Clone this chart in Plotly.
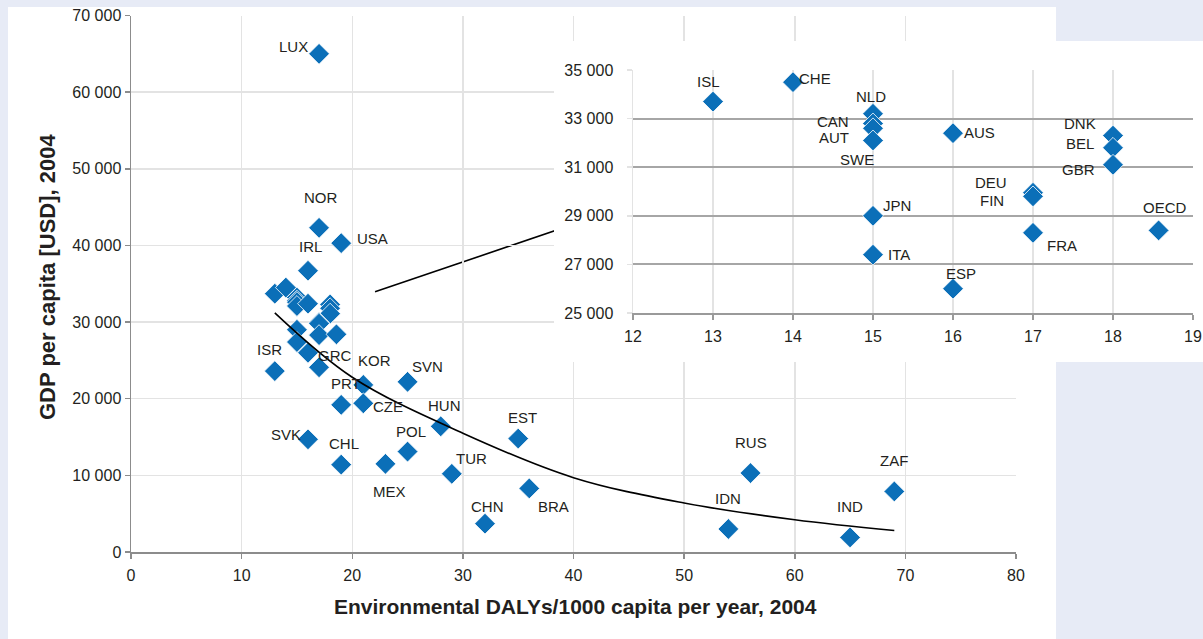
import plotly.graph_objects as go

# ---------------- data ----------------
countries = ["LUX", "NOR", "USA", "IRL", "ISL", "CHE", "NLD", "CAN", "AUT", "SWE",
             "AUS", "DNK", "BEL", "GBR", "DEU", "FIN", "JPN", "FRA", "OECD", "ITA",
             "ESP", "GRC", "ISR", "KOR", "SVN", "PRT", "CZE", "HUN", "SVK", "CHL",
             "POL", "EST", "MEX", "TUR", "BRA", "CHN", "RUS", "IDN", "ZAF", "IND"]
dalys = [17, 17, 19, 16, 13, 14, 15, 15, 15, 15,
         16, 18, 18, 18, 17, 17, 15, 17, 18.57, 15,
         16, 17, 13, 21, 25, 19, 21, 28, 16, 19,
         25, 35, 23, 29, 36, 32, 56, 54, 69, 65]
gdp = [65000, 42300, 40300, 36700, 33700, 34500, 33200, 32800, 32600, 32100,
       32400, 32300, 31800, 31100, 29950, 29800, 29000, 28300, 28400, 27400,
       26000, 24100, 23600, 21800, 22200, 19200, 19400, 16400, 14700, 11400,
       13100, 14800, 11500, 10200, 8300, 3700, 10300, 3000, 7900, 1900]

# trend line
trend_x = [13, 20, 30, 40, 50, 60, 69]
trend_y = [31200, 22800, 15500, 9700, 6400, 4200, 2800]

inset_countries = ["ISL", "CHE", "NLD", "CAN", "AUT", "SWE", "AUS", "DNK", "BEL",
                   "GBR", "DEU", "FIN", "JPN", "FRA", "OECD", "ITA", "ESP"]

x_title = "Environmental DALYs/1000 capita per year, 2004"
y_title = "GDP per capita [USD], 2004"

# ---------------- label placement (pixel offsets: dx, dy downwards) ----------------
main_label_offsets = {
    "LUX": (-26, -7), "NOR": (2, -30), "USA": (31, -5), "IRL": (2, -24),
    "ISR": (-5, -22), "GRC": (16, -12), "KOR": (11, -24), "SVN": (20, -15),
    "PRT": (5, -21), "CZE": (25, 3), "HUN": (4, -21), "SVK": (-22, -5),
    "CHL": (3, -21), "POL": (3, -20), "EST": (4, -21), "MEX": (4, 28),
    "TUR": (20, -15), "CHN": (2, -17), "BRA": (24, 18), "IDN": (0, -31),
    "RUS": (0, -31), "IND": (0, -31), "ZAF": (0, -31),
}
inset_label_offsets = {
    "ISL": (-5, -20), "CHE": (22, -4), "NLD": (-2, -17), "CAN": (-40, -2),
    "AUT": (-39, 9), "SWE": (-16, 19), "AUS": (26, -1), "DNK": (-33, -12),
    "BEL": (-33, -4), "GBR": (-35, 5), "DEU": (-42, -10), "FIN": (-41, 4),
    "JPN": (24, -10), "ITA": (26, 0), "FRA": (29, 13), "OECD": (6, -23),
    "ESP": (8, -15),
}

# ---------------- styles ----------------
W, H = 1203, 639
BLUE = "#0B6FB8"
LAV = "#E7EBF6"
TXT = "#231F20"
FONT = "Liberation Sans, Arial, sans-serif"


def px_x(p):
    return p / W


def px_y(p):
    return (H - p) / H


val = dict(zip(countries, zip(dalys, gdp)))

fig = go.Figure()

# main scatter
fig.add_trace(go.Scatter(
    x=dalys, y=gdp, mode="markers", xaxis="x", yaxis="y",
    marker=dict(symbol="diamond", size=16, color=BLUE, line=dict(color="white", width=0.8)),
    showlegend=False, hoverinfo="skip"))
# trend
fig.add_trace(go.Scatter(
    x=trend_x, y=trend_y, mode="lines", xaxis="x", yaxis="y",
    line=dict(color="black", width=1.6, shape="spline", smoothing=1.0),
    showlegend=False, hoverinfo="skip"))

# invisible subplot that carries the white inset box
fig.add_trace(go.Scatter(x=[None], y=[None], xaxis="x2", yaxis="y2",
                         showlegend=False, hoverinfo="skip"))

# inset scatter
fig.add_trace(go.Scatter(
    x=[val[c][0] for c in inset_countries], y=[val[c][1] for c in inset_countries],
    mode="markers", xaxis="x3", yaxis="y3",
    marker=dict(symbol="diamond", size=16, color=BLUE, line=dict(color="white", width=0.8)),
    showlegend=False, hoverinfo="skip"))

annotations = []
for c, (dx, dy) in main_label_offsets.items():
    annotations.append(dict(x=val[c][0], y=val[c][1], xref="x", yref="y", text=c,
                            showarrow=False, xshift=dx, yshift=-dy,
                            xanchor="center", yanchor="middle",
                            font=dict(family=FONT, size=15, color=TXT)))
for c, (dx, dy) in inset_label_offsets.items():
    annotations.append(dict(x=val[c][0], y=val[c][1], xref="x3", yref="y3", text=c,
                            showarrow=False, xshift=dx, yshift=-dy,
                            xanchor="center", yanchor="middle",
                            font=dict(family=FONT, size=15, color=TXT)))

main_xd = [px_x(131), px_x(1016)]
main_yd = [px_y(552), px_y(15.5)]

annotations.append(dict(x=px_x(575), y=px_y(606), xref="paper", yref="paper",
                        text="<b>" + x_title + "</b>", showarrow=False,
                        xanchor="center", yanchor="middle",
                        font=dict(family=FONT, size=21, color=TXT)))
annotations.append(dict(x=px_x(47), y=px_y(277), xref="paper", yref="paper",
                        text="<b>" + y_title + "</b>", showarrow=False, textangle=-90,
                        xanchor="center", yanchor="middle",
                        font=dict(family=FONT, size=22, color=TXT)))

shapes = [
    # white panel
    dict(type="rect", xref="paper", yref="paper", x0=px_x(8), x1=px_x(1056),
         y0=0, y1=px_y(7), fillcolor="white", line=dict(width=0), layer="below"),
    # callout line
    dict(type="line", xref="x", yref="y", x0=22.06, y0=33950, x1=45.0, y1=45200,
         line=dict(color="black", width=1.6), layer="below"),
    # white inset box
    dict(type="rect", xref="x2", yref="y2", x0=0, x1=1, y0=0, y1=1,
         fillcolor="white", line=dict(width=0), layer="below"),
]

GRID = "#E3E3E3"
AXL = "#8C8C8C"
tickfont = dict(family=FONT, size=16, color=TXT)

fig.update_layout(
    template="none",
    autosize=False,
    width=W, height=H, margin=dict(l=0, r=0, t=0, b=0, pad=0, autoexpand=False),
    paper_bgcolor=LAV, plot_bgcolor="white",
    separators=". ",
    showlegend=False,
    annotations=annotations, shapes=shapes,
    xaxis=dict(domain=main_xd, anchor="y", range=[0, 80], dtick=10, tick0=0,
               automargin=False,
               showgrid=True, gridcolor=GRID, gridwidth=1.5, zeroline=False,
               showline=True, linecolor=AXL, linewidth=1.5,
               ticks="outside", ticklen=5, tickcolor=AXL, tickwidth=1.5,
               tickfont=tickfont, ticklabelstandoff=3),
    yaxis=dict(domain=main_yd, anchor="x", range=[0, 70000], dtick=10000, tick0=0,
               tickformat=",d", automargin=False,
               showgrid=True, gridcolor=GRID, gridwidth=1.5, zeroline=False,
               showline=True, linecolor=AXL, linewidth=1.5,
               ticks="outside", ticklen=5, tickcolor=AXL, tickwidth=1.5,
               tickfont=tickfont),
    xaxis2=dict(domain=[px_x(554), 1.0], anchor="y2", range=[0, 1], visible=False,
                fixedrange=True, automargin=False),
    yaxis2=dict(domain=[px_y(362), px_y(41)], anchor="x2", range=[0, 1], visible=False,
                fixedrange=True, automargin=False),
    xaxis3=dict(domain=[px_x(633), px_x(1193)], anchor="y3", range=[12, 19], dtick=1, tick0=12,
                automargin=False,
                showgrid=True, gridcolor=GRID, gridwidth=1.5, zeroline=False,
                showline=True, linecolor="#9A9A9A", linewidth=2,
                ticks="outside", ticklen=5, tickcolor="#9A9A9A", tickwidth=1.5,
                tickfont=tickfont, ticklabelstandoff=3),
    yaxis3=dict(domain=[px_y(313), px_y(70)], anchor="x3", range=[25000, 35000], dtick=2000,
                tick0=25000, tickformat=",d", automargin=False,
                showgrid=True, gridcolor="#A6A6A6", gridwidth=2, zeroline=False,
                showline=True, linecolor=GRID, linewidth=1.5,
                ticks="outside", ticklen=5, tickcolor=GRID, tickwidth=1.5,
                tickfont=tickfont, ticklabelstandoff=10),
)

fig.write_html(
    "out.html",
    config={"displayModeBar": False, "staticPlot": True},
    post_script="document.body.style.margin='0';document.body.style.background='" + LAV + "';",
)
